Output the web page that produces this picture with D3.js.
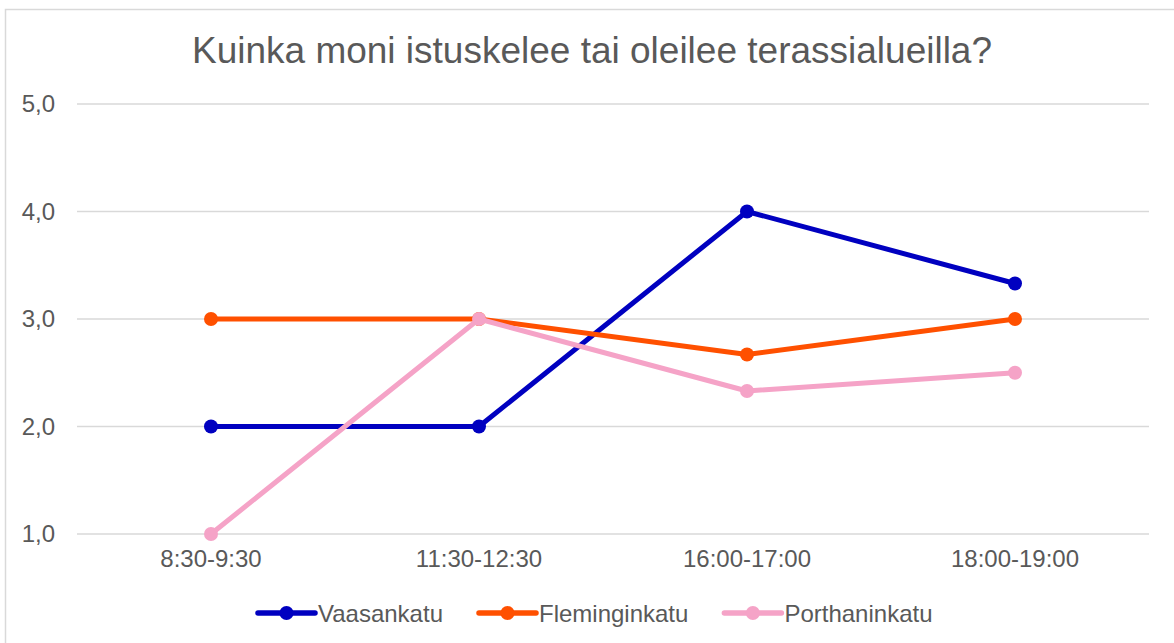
<!DOCTYPE html>
<html>
  <head>
    <meta charset="utf-8">
    <script src="https://d3js.org/d3.v7.min.js"></script>
    <style>
      body { margin: 0; background: white; }
      text { font-family: "Liberation Sans", Arial, sans-serif; fill: #595959; }
      .grid line { stroke: #d9d9d9; stroke-width: 1.5px; }
    </style>
  </head>
  <body>
    <div id="chart"></div>
<script>

var title = "Kuinka moni istuskelee tai oleilee terassialueilla?";
var categories = ["8:30-9:30", "11:30-12:30", "16:00-17:00", "18:00-19:00"];
var yTicks = [1, 2, 3, 4, 5];
var seriesNames = ["Vaasankatu", "Fleminginkatu", "Porthaninkatu"];
var vaasankatu = [2, 2, 4, 3.33];
var fleminginkatu = [3, 3, 2.67, 3];
var porthaninkatu = [1, 3, 2.33, 2.5];
var colors = ["#0000c0", "#ff5000", "#f5a3c7"];

var width = 1174, height = 643;
var seriesValues = [vaasankatu, fleminginkatu, porthaninkatu];

var svg = d3.select("#chart").append("svg")
  .attr("width", width)
  .attr("height", height);

// chart frame
svg.append("rect")
  .attr("x", 5.5).attr("y", 9.5)
  .attr("width", 1200).attr("height", 700)
  .attr("fill", "white")
  .attr("stroke", "#d9d9d9")
  .attr("stroke-width", 1.5);

var x = d3.scaleBand().domain(categories).range([77, 1149]);
var y = d3.scaleLinear().domain([1, 5]).range([534, 104]);

svg.append("text")
  .attr("x", 592).attr("y", 63)
  .attr("text-anchor", "middle")
  .style("font-size", "37px")
  .text(title);

// gridlines
svg.append("g").attr("class", "grid")
  .selectAll("line")
  .data(yTicks).enter()
  .append("line")
  .attr("x1", 77).attr("x2", 1149)
  .attr("y1", function (d) { return y(d); })
  .attr("y2", function (d) { return y(d); });

var fmt = function (d) { return d3.format(".1f")(d).replace(".", ","); };

var yAxis = svg.append("g")
  .attr("transform", "translate(77,0)")
  .call(d3.axisLeft(y).tickValues(yTicks).tickFormat(fmt).tickSize(0).tickPadding(22));
yAxis.select(".domain").remove();
yAxis.selectAll("text").style("font-size", "24px").attr("fill", "#595959");

var xAxis = svg.append("g")
  .attr("transform", "translate(0,534)")
  .call(d3.axisBottom(x).tickSize(0).tickPadding(16));
xAxis.select(".domain").remove();
xAxis.selectAll("text").style("font-size", "24px").attr("fill", "#595959");

var line = d3.line()
  .x(function (d, i) { return x(categories[i]) + x.bandwidth() / 2; })
  .y(function (d) { return y(d); });

seriesValues.forEach(function (vals, k) {
  var g = svg.append("g");
  g.append("path")
    .attr("d", line(vals))
    .attr("fill", "none")
    .attr("stroke", colors[k])
    .attr("stroke-width", 5)
    .attr("stroke-linejoin", "round")
    .attr("stroke-linecap", "round");
  g.selectAll("circle")
    .data(vals).enter()
    .append("circle")
    .attr("cx", function (d, i) { return x(categories[i]) + x.bandwidth() / 2; })
    .attr("cy", function (d) { return y(d); })
    .attr("r", 7)
    .attr("fill", colors[k]);
});

// legend
var legend = svg.append("g");
var lx = 258, ly = 613;
seriesNames.forEach(function (name, k) {
  var item = legend.append("g").attr("transform", "translate(" + lx + "," + ly + ")");
  item.append("line")
    .attr("x1", 0).attr("x2", 57)
    .attr("stroke", colors[k])
    .attr("stroke-width", 5.5)
    .attr("stroke-linecap", "round");
  item.append("circle")
    .attr("cx", 28.5).attr("r", 7)
    .attr("fill", colors[k]);
  var t = item.append("text")
    .attr("x", 60).attr("y", 9)
    .style("font-size", "24px")
    .text(name);
  lx += 60 + t.node().getComputedTextLength() + 36;
});

</script>
  </body>
</html>
